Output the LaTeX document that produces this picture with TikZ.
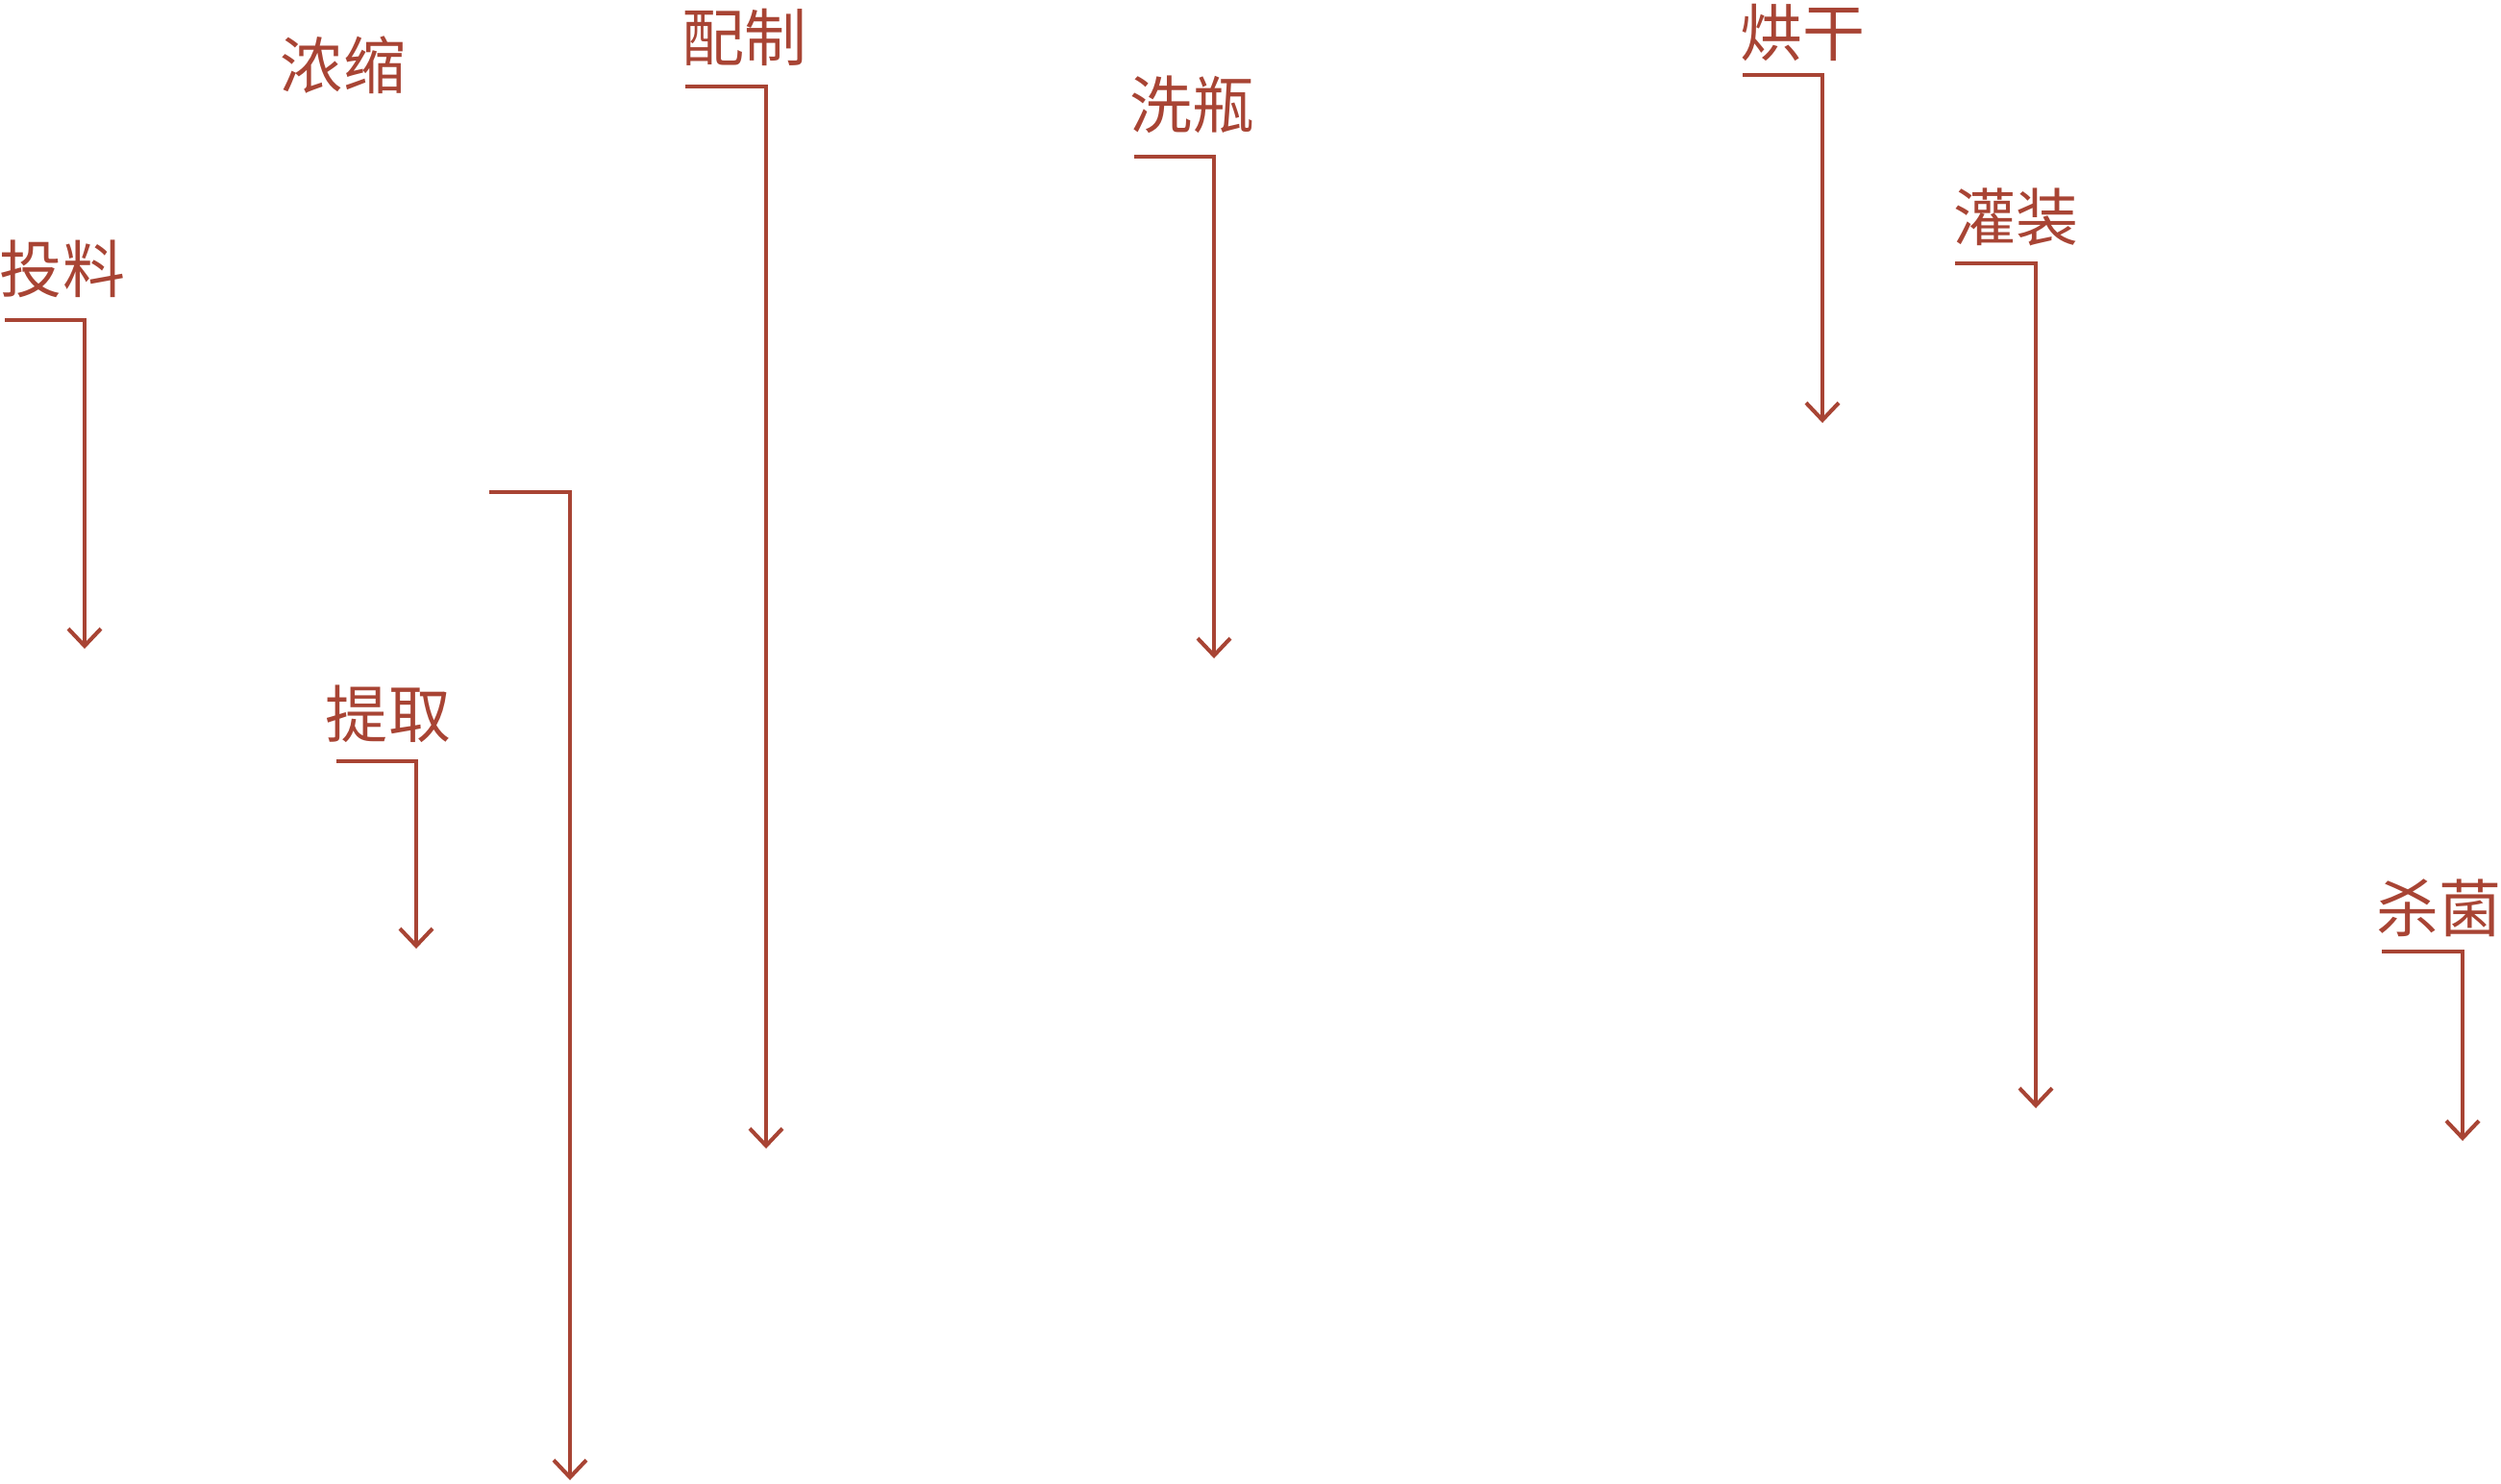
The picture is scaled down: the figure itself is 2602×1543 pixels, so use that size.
\documentclass[tikz,border=0pt]{standalone}
\usepackage{fontspec}
\newfontfamily\cjk{Noto Sans CJK SC}
\usetikzlibrary{arrows.meta}
\definecolor{rust}{RGB}{168,68,52}
\begin{document}
\begin{tikzpicture}[x=0.02cm,y=-0.02cm,
  lbl/.style={inner sep=0pt,text=rust,font=\cjk\fontsize{37}{40}\selectfont},
  flow/.style={draw=rust,line width=2.3pt,line join=miter,
    -{Straight Barb[length=0.36cm,width=0.68cm,line width=2.3pt]}}]
\useasboundingbox (0,0) rectangle (2602,1543);
% labels
\node[lbl] (t1) at (65,280) {投料};
\node[lbl] (t2) at (357,68) {浓缩};
\node[lbl] (t3) at (404,743) {提取};
\node[lbl] (t4) at (774,39) {配制};
\node[lbl] (t5) at (1240,109) {洗瓶};
\node[lbl] (t6) at (1875,34) {烘干};
\node[lbl] (t7) at (2097,226) {灌装};
\node[lbl] (t8) at (2537,945) {杀菌};
% connector endpoints
\coordinate (s1) at (5,333);    \coordinate (e1) at (88,675);
\coordinate (s2) at (509,512);  \coordinate (e2) at (593,1540);
\coordinate (s3) at (350,792);  \coordinate (e3) at (433,987);
\coordinate (s4) at (713,90);   \coordinate (e4) at (797,1195);
\coordinate (s5) at (1180,163); \coordinate (e5) at (1263,685);
\coordinate (s6) at (1813,78);  \coordinate (e6) at (1896,440);
\coordinate (s7) at (2034,274); \coordinate (e7) at (2118,1153);
\coordinate (s8) at (2478,990); \coordinate (e8) at (2562,1187);
\foreach \i in {1,...,8}{\draw[flow] (s\i) -| (e\i);}
\end{tikzpicture}
\end{document}
